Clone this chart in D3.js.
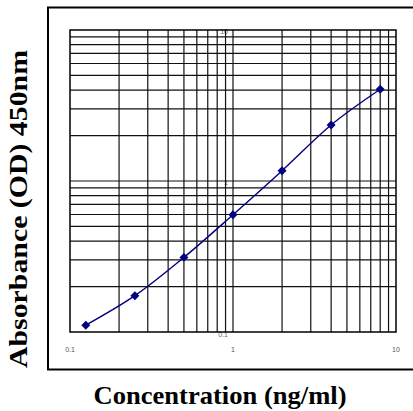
<!DOCTYPE html>
<html>
<head>
<meta charset="utf-8">
<script src="https://cdn.jsdelivr.net/npm/d3@7"></script>
<style>
  body { margin: 0; background: #fff; }
  svg { display: block; }
</style>
</head>
<body>
<div id="chart"></div>
<script>
// chart data
var concentration = [0.125, 0.25, 0.5, 1, 2, 4, 8];
var absorbance = [0.111, 0.174, 0.312, 0.598, 1.17, 2.35, 4.05];
var xTickValues = [0.1, 1, 10];
var yTickValues = [0.1, 1, 10];
var xTitle = "Concentration (ng/ml)";
var yTitle = "Absorbance (OD) 450nm";

var svgWidth = 413;
var svgHeight = 411;

var plot = { left: 70, right: 396, top: 30, bottom: 332 };

var svg = d3.select("#chart")
    .append("svg")
    .attr("width", svgWidth)
    .attr("height", svgHeight);

// outer frame
svg.append("rect")
    .attr("x", 48)
    .attr("y", 7.5)
    .attr("width", 380)
    .attr("height", 362)
    .attr("fill", "none")
    .attr("stroke", "#000")
    .attr("stroke-width", 2);

var xScale = d3.scaleLog()
    .domain([0.1, 10])
    .range([plot.left, plot.right]);

var yScale = d3.scaleLog()
    .domain([0.1, 10])
    .range([plot.bottom, plot.top]);

// y tick labels sit beside the grid line at x = 1 (drawn under the grid)
svg.append("g")
    .selectAll("text")
    .data(yTickValues)
    .enter()
    .append("text")
    .attr("x", xScale(1) - 5)
    .attr("y", d => yScale(d) + (d === 0.1 ? 5 : 4))
    .attr("text-anchor", "end")
    .attr("font-family", "Liberation Sans, Arial, sans-serif")
    .attr("font-size", "7px")
    .attr("fill", "#666")
    .text(d => d3.format("~g")(d));

// grid lines
var xGrid = xScale.ticks().filter(d => d > 0.1 && d < 10);
var yGrid = yScale.ticks().filter(d => d > 0.1 && d < 10);

var gridGroup = svg.append("g")
    .attr("stroke", "#111")
    .attr("stroke-width", 1.2);

gridGroup.selectAll(".vgrid")
    .data(xGrid)
    .enter()
    .append("line")
    .attr("x1", d => xScale(d))
    .attr("x2", d => xScale(d))
    .attr("y1", plot.top)
    .attr("y2", plot.bottom);

gridGroup.selectAll(".hgrid")
    .data(yGrid)
    .enter()
    .append("line")
    .attr("x1", plot.left)
    .attr("x2", plot.right)
    .attr("y1", d => yScale(d))
    .attr("y2", d => yScale(d));

// plot border
svg.append("rect")
    .attr("x", plot.left)
    .attr("y", plot.top)
    .attr("width", plot.right - plot.left)
    .attr("height", plot.bottom - plot.top)
    .attr("fill", "none")
    .attr("stroke", "#000")
    .attr("stroke-width", 1.5);

// x tick labels
svg.append("g")
    .selectAll("text")
    .data(xTickValues)
    .enter()
    .append("text")
    .attr("x", d => xScale(d))
    .attr("y", 352)
    .attr("text-anchor", "middle")
    .attr("font-family", "Liberation Sans, Arial, sans-serif")
    .attr("font-size", "7px")
    .attr("fill", "#555")
    .text(d => d3.format("~g")(d));

// curve
var points = concentration.map((c, i) => [c, absorbance[i]]);

var line = d3.line()
    .x(d => xScale(d[0]))
    .y(d => yScale(d[1]))
    .curve(d3.curveCatmullRom);

svg.append("path")
    .datum(points)
    .attr("d", line)
    .attr("fill", "none")
    .attr("stroke", "#000080")
    .attr("stroke-width", 1.4);

svg.append("g")
    .selectAll("path")
    .data(points)
    .enter()
    .append("path")
    .attr("d", d3.symbol(d3.symbolSquare, 40))
    .attr("transform", d => `translate(${xScale(d[0])},${yScale(d[1])}) rotate(45)`)
    .attr("fill", "#000080");

// axis titles
svg.append("text")
    .attr("x", 220)
    .attr("y", 404)
    .attr("text-anchor", "middle")
    .attr("font-family", "Liberation Serif, Times New Roman, serif")
    .attr("font-weight", "bold")
    .attr("font-size", "26px")
    .attr("textLength", 253)
    .attr("lengthAdjust", "spacingAndGlyphs")
    .text(xTitle);

svg.append("text")
    .attr("transform", "translate(27, 209) rotate(-90)")
    .attr("text-anchor", "middle")
    .attr("font-family", "Liberation Serif, Times New Roman, serif")
    .attr("font-weight", "bold")
    .attr("font-size", "26px")
    .attr("textLength", 318)
    .attr("lengthAdjust", "spacingAndGlyphs")
    .text(yTitle);
</script>
</body>
</html>
